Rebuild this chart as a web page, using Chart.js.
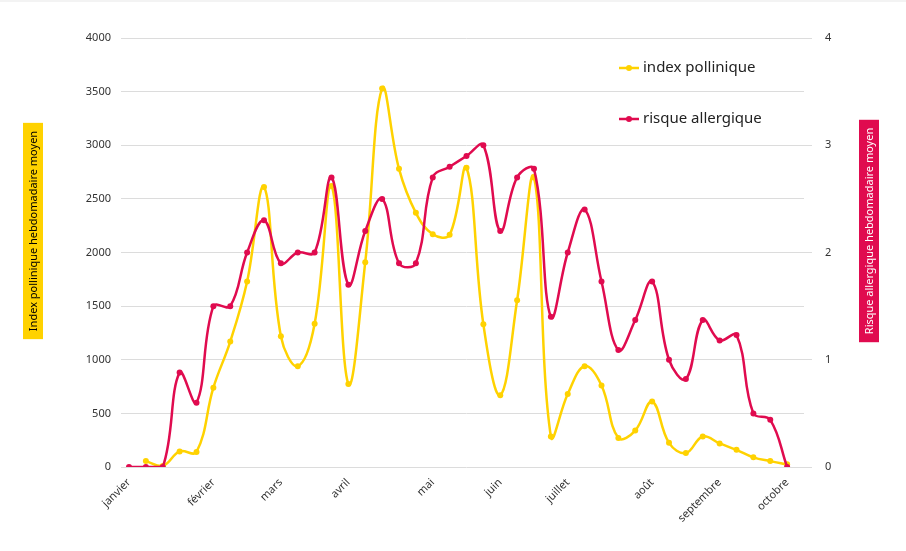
<!DOCTYPE html>
<html>
<head>
<meta charset="utf-8">
<script src="https://cdn.jsdelivr.net/npm/chart.js@4"></script>
<style>
  html, body { margin: 0; padding: 0; background: #fff; }
  #wrap { width: 906px; height: 551px; position: relative; }
  #bord { position: absolute; left: 0; top: 0; width: 906px; height: 2px; background: #f3f3f3; }
</style>
</head>
<body>
<div id="wrap"><canvas id="myChart"></canvas><div id="bord"></div></div>
<script>
// semaines (une étiquette au début de chaque mois)
const semaines = ['janvier', '', '', '', '', 'février', '', '', '', 'mars', '', '', '', 'avril', '', '', '', '',
    'mai', '', '', '', 'juin', '', '', '', 'juillet', '', '', '', '', 'août', '', '', '', 'septembre', '', '', '',
    'octobre', ''];

const indexPollinique = [null, 55, 10, 145, 140, 740, 1170, 1730, 2610, 1220, 940, 1335, 2620, 775, 1910, 3530,
    2780, 2370, 2170, 2165, 2790, 1330, 670, 1555, 2700, 285, 680, 940, 760, 270, 340, 610, 225, 130, 285, 220,
    160, 90, 55, 25];

const risqueAllergique = [0, 0, 0, 0.88, 0.6, 1.5, 1.5, 2.0, 2.3, 1.9, 2.0, 2.0, 2.7, 1.7, 2.2, 2.5, 1.9, 1.9,
    2.7, 2.8, 2.9, 3.0, 2.2, 2.7, 2.78, 1.4, 2.0, 2.4, 1.73, 1.09, 1.37, 1.73, 1.0, 0.82, 1.37, 1.18, 1.23, 0.5,
    0.44, 0];

const jaune = '#FFD200';
const rouge = '#E00B4F';
const police = "'Noto Sans', 'Open Sans', sans-serif";

const titreGauche = 'Index pollinique hebdomadaire moyen';
const titreDroite = 'Risque allergique hebdomadaire moyen';

// titres des axes avec fond coloré
function boiteTitre(ctx, texte, cx, cy, fond, couleur) {
    ctx.save();
    ctx.translate(cx, cy);
    ctx.rotate(-Math.PI / 2);
    ctx.font = '11px ' + police;
    const w = ctx.measureText(texte).width + 16;
    ctx.fillStyle = fond;
    ctx.fillRect(-w / 2, -10, w, 20);
    ctx.fillStyle = couleur;
    ctx.textAlign = 'center';
    ctx.textBaseline = 'middle';
    ctx.fillText(texte, 0, 1);
    ctx.restore();
}

const titresAxes = {
    id: 'titresAxes',
    afterDraw(chart) {
        const ctx = chart.ctx;
        const cy = chart.chartArea.top + 193;
        boiteTitre(ctx, titreGauche, 33, cy, jaune, '#000');
        boiteTitre(ctx, titreDroite, chart.width - 37, cy, rouge, '#fff');
    }
};

// légende dans la zone du graphique
const legendeInterne = {
    id: 'legendeInterne',
    afterDraw(chart) {
        const ctx = chart.ctx;
        const x0 = chart.chartArea.right - 185;
        let y = chart.chartArea.top + 30;
        chart.data.datasets.forEach(function(ds) {
            ctx.save();
            ctx.strokeStyle = ds.borderColor;
            ctx.lineWidth = 2.5;
            ctx.beginPath();
            ctx.moveTo(x0, y);
            ctx.lineTo(x0 + 20, y);
            ctx.stroke();
            ctx.fillStyle = ds.borderColor;
            ctx.beginPath();
            ctx.arc(x0 + 10, y, 3, 0, Math.PI * 2);
            ctx.fill();
            ctx.fillStyle = '#222';
            ctx.font = '15px ' + police;
            ctx.textBaseline = 'middle';
            ctx.fillText(ds.label, x0 + 24, y);
            ctx.restore();
            y += 51;
        });
    }
};

const ctx = document.getElementById('myChart').getContext('2d');
const myChart = new Chart(ctx, {
    type: 'line',
    data: {
        labels: semaines,
        datasets: [{
            label: 'index pollinique',
            data: indexPollinique,
            yAxisID: 'y',
            borderColor: jaune,
            backgroundColor: jaune,
            borderWidth: 2.5,
            pointRadius: 3,
            pointBorderWidth: 0,
            tension: 0.4,
            order: 2
        }, {
            label: 'risque allergique',
            data: risqueAllergique,
            yAxisID: 'y1',
            borderColor: rouge,
            backgroundColor: rouge,
            borderWidth: 2.5,
            pointRadius: 3,
            pointBorderWidth: 0,
            tension: 0.4,
            order: 1
        }]
    },
    options: {
        responsive: true,
        maintainAspectRatio: false,
        animation: false,
        layout: {
            padding: { left: 69, right: 52, top: 38, bottom: 24 }
        },
        plugins: {
            legend: { display: false },
            tooltip: { enabled: false }
        },
        scales: {
            x: {
                grid: { display: false, drawTicks: false },
                border: { display: false },
                ticks: {
                    autoSkip: false,
                    maxRotation: 45,
                    minRotation: 45,
                    padding: 9,
                    color: '#333',
                    font: { family: police, size: 11 }
                },
                afterFit: function(s) { s.height = 60; }
            },
            y: {
                position: 'left',
                min: 0,
                max: 4000,
                grid: { color: '#dcdcdc', tickLength: 8 },
                border: { display: false },
                ticks: {
                    stepSize: 500,
                    padding: 10,
                    color: '#333',
                    font: { family: police, size: 11 },
                    callback: function(v) { return String(v); }
                },
                afterFit: function(s) { s.width = 60; }
            },
            y1: {
                position: 'right',
                min: 0,
                max: 4,
                grid: { color: '#dcdcdc', tickLength: 8, drawOnChartArea: false },
                border: { display: false },
                ticks: {
                    stepSize: 1,
                    padding: 13,
                    color: '#333',
                    font: { family: police, size: 11 },
                    callback: function(v) { return String(v); }
                },
                afterFit: function(s) { s.width = 50; }
            }
        }
    },
    plugins: [titresAxes, legendeInterne]
});
</script>
</body>
</html>
